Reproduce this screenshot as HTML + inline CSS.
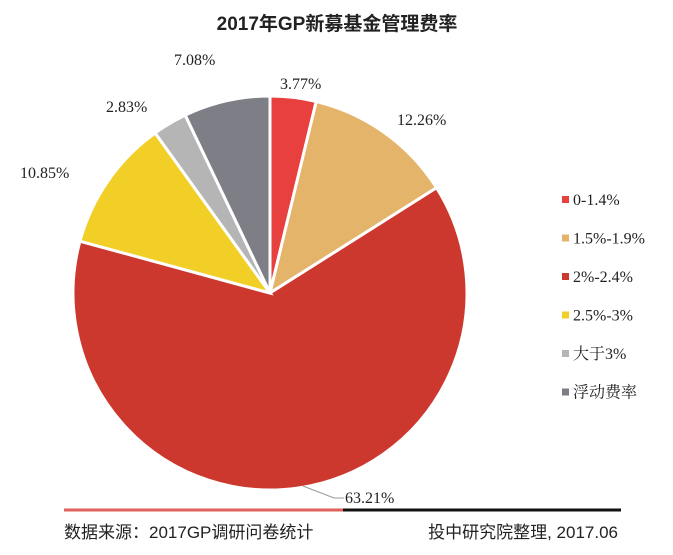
<!DOCTYPE html>
<html><head><meta charset="utf-8"><style>
body{margin:0;background:#fff;width:673px;height:550px;overflow:hidden;font-family:"Liberation Serif","Noto Serif CJK SC",serif}
</style></head><body>
<svg width="673" height="550">
<text x="337" y="30" text-anchor="middle" font-family="Liberation Sans,Noto Sans CJK SC,sans-serif" font-weight="bold" font-size="19" fill="#222">2017年GP新募基金管理费率</text>
<g id="slices"></g>
<g id="labels" font-size="16" fill="#222"></g>
<polyline points="303,486 334,498 344,498" fill="none" stroke="#999" stroke-width="1"/>
<g id="legend" font-size="16" fill="#222"></g>
<line x1="64" y1="510" x2="343" y2="510" stroke="#e0605a" stroke-width="3"/>
<line x1="343" y1="510" x2="621" y2="510" stroke="#111" stroke-width="3"/>
<text x="64" y="538" font-family="Liberation Sans,Noto Sans CJK SC,sans-serif" font-size="17" fill="#222">数据来源：2017GP调研问卷统计</text>
<text x="618" y="538" text-anchor="end" font-family="Liberation Sans,Noto Sans CJK SC,sans-serif" font-size="17" fill="#222">投中研究院整理, 2017.06</text>
</svg>
<script>
const categories=["0-1.4%","1.5%-1.9%","2%-2.4%","2.5%-3%","大于3%","浮动费率"];
const values=[3.77,12.26,63.21,10.85,2.83,7.08];
const valueLabels=["3.77%","12.26%","63.21%","10.85%","2.83%","7.08%"];
const colors=["#e8403e","#e3b46a","#cc382e","#f2cf26","#b5b5b5","#7e7e86"];
const cx=270,cy=293,r=197;
const ns="http://www.w3.org/2000/svg";
const total=values.reduce((a,b)=>a+b,0);
const sg=document.getElementById("slices"),lg=document.getElementById("labels"),leg=document.getElementById("legend");
let a0=0;
const labelPos=[[280,89],[397,125],[345,503],[20,178],[106,112],[174,65]];
values.forEach((v,i)=>{
  const a1=a0+v/total*2*Math.PI;
  const x0=cx+r*Math.sin(a0),y0=cy-r*Math.cos(a0),x1=cx+r*Math.sin(a1),y1=cy-r*Math.cos(a1);
  const p=document.createElementNS(ns,"path");
  p.setAttribute("d",`M${cx},${cy}L${x0},${y0}A${r},${r} 0 ${a1-a0>Math.PI?1:0} 1 ${x1},${y1}Z`);
  p.setAttribute("fill",colors[i]);p.setAttribute("stroke","#fff");p.setAttribute("stroke-width","3");
  
  
  sg.appendChild(p);
  const t=document.createElementNS(ns,"text");
  t.setAttribute("x",labelPos[i][0]);t.setAttribute("y",labelPos[i][1]);t.textContent=valueLabels[i];
  
  
  lg.appendChild(t);
  const y=205+i*38.5;
  const s=document.createElementNS(ns,"rect");
  s.setAttribute("x",562);s.setAttribute("y",y-9);s.setAttribute("width",7);s.setAttribute("height",7);s.setAttribute("fill",colors[i]);
  
  
  leg.appendChild(s);
  const lt=document.createElementNS(ns,"text");
  lt.setAttribute("x",573);lt.setAttribute("y",y);lt.textContent=categories[i];
  
  
  leg.appendChild(lt);
  a0=a1;
});
</script>
</body></html>
